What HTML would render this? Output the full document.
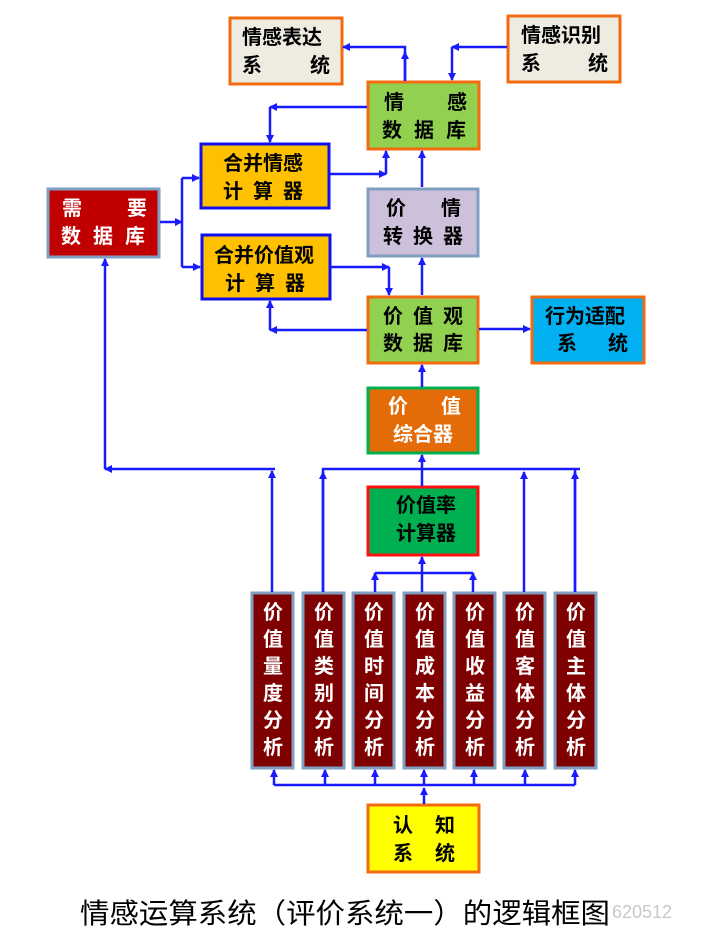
<!DOCTYPE html>
<html><head><meta charset="utf-8"><style>
html,body{margin:0;padding:0;background:#fff;width:705px;height:940px;overflow:hidden}
svg{display:block}
text{font-family:"Liberation Sans","Noto Sans CJK SC",sans-serif;font-size:20px;font-weight:bold}
</style></head><body>
<svg width="705" height="940" viewBox="0 0 705 940" xmlns="http://www.w3.org/2000/svg">
<defs>
<marker id="a" markerWidth="8" markerHeight="8" refX="7" refY="4" orient="auto" markerUnits="userSpaceOnUse">
<path d="M0,0 L8,4 L0,8 Z" fill="#1a1aff"/></marker>
</defs>
<rect x="230" y="18" width="112" height="66" fill="#eeece1" stroke="#f26b10" stroke-width="3"/>
<rect x="508" y="16" width="112" height="66" fill="#eeece1" stroke="#f26b10" stroke-width="3"/>
<rect x="368" y="82" width="111" height="67" fill="#92d050" stroke="#f26b10" stroke-width="3"/>
<rect x="201" y="144" width="128" height="64" fill="#ffc000" stroke="#1010ee" stroke-width="3"/>
<rect x="48" y="189" width="111" height="68" fill="#c00000" stroke="#7f9fc0" stroke-width="3"/>
<rect x="368" y="189" width="110" height="67" fill="#ccc0da" stroke="#7f9fc0" stroke-width="3"/>
<rect x="202" y="235" width="128" height="64" fill="#ffc000" stroke="#1010ee" stroke-width="3"/>
<rect x="368" y="297" width="110" height="66" fill="#92d050" stroke="#f26b10" stroke-width="3"/>
<rect x="532" y="297" width="112" height="66" fill="#00b0f0" stroke="#f26b10" stroke-width="3"/>
<rect x="368" y="388" width="110" height="65" fill="#e36c09" stroke="#00b050" stroke-width="3"/>
<rect x="368" y="487" width="110" height="68" fill="#00b050" stroke="#ff1010" stroke-width="3"/>
<rect x="368" y="805" width="111" height="67" fill="#ffff00" stroke="#f26b10" stroke-width="3"/>
<g fill="#7f0000" stroke="#7f9fc0" stroke-width="3">
<rect x="252" y="593" width="41" height="175"/><rect x="303" y="593" width="41" height="175"/>
<rect x="353" y="593" width="41" height="175"/><rect x="404" y="593" width="41" height="175"/>
<rect x="454" y="593" width="41" height="175"/><rect x="504" y="593" width="41" height="175"/>
<rect x="555" y="593" width="41" height="175"/>
</g>
<g stroke="#1a1aff" stroke-width="2.5" fill="none">
<path d="M405,81 V47 H343" marker-end="url(#a)"/>
<path d="M405,80 V52" marker-end="url(#a)"/>
<path d="M507,47 H452" marker-end="url(#a)"/>
<path d="M452,47 V80" marker-end="url(#a)"/>
<path d="M367,107 H270" marker-end="url(#a)"/>
<path d="M270,107 V142" marker-end="url(#a)"/>
<path d="M330,174 H386" marker-end="url(#a)"/>
<path d="M386,174 V151" marker-end="url(#a)"/>
<path d="M422,187 V151" marker-end="url(#a)"/>
<path d="M160,222 H182" marker-end="url(#a)"/>
<path d="M182,178 V267"/>
<path d="M182,178 H199" marker-end="url(#a)"/>
<path d="M182,267 H200" marker-end="url(#a)"/>
<path d="M331,267 H389" marker-end="url(#a)"/>
<path d="M389,267 V295" marker-end="url(#a)"/>
<path d="M422,295 V258" marker-end="url(#a)"/>
<path d="M367,330 H270" marker-end="url(#a)"/>
<path d="M270,330 V301" marker-end="url(#a)"/>
<path d="M479,329 H530" marker-end="url(#a)"/>
<path d="M422,387 V365" marker-end="url(#a)"/>
<path d="M275,469 H105" marker-end="url(#a)"/>
<path d="M105,469 V259" marker-end="url(#a)"/>
<path d="M272,592 V471" marker-end="url(#a)"/>
<path d="M323,592 V469 H580"/>
<path d="M323,592 V472" marker-end="url(#a)"/>
<path d="M422,486 V455" marker-end="url(#a)"/>
<path d="M524,592 V472" marker-end="url(#a)"/>
<path d="M575,592 V469"/>
<path d="M575,592 V472" marker-end="url(#a)"/>
<path d="M375,573 H473"/>
<path d="M375,592 V573" marker-end="url(#a)"/>
<path d="M473,592 V573" marker-end="url(#a)"/>
<path d="M422,592 V557" marker-end="url(#a)"/>
<path d="M274,785 H575"/>
<path d="M274,785 V770" marker-end="url(#a)"/>
<path d="M325,785 V770" marker-end="url(#a)"/>
<path d="M375,785 V770" marker-end="url(#a)"/>
<path d="M424,785 V770" marker-end="url(#a)"/>
<path d="M474,785 V770" marker-end="url(#a)"/>
<path d="M525,785 V770" marker-end="url(#a)"/>
<path d="M575,785 V770" marker-end="url(#a)"/>
<path d="M424,804 V788" marker-end="url(#a)"/>
</g>
<g fill="#000">
<text x="242" y="44">情感表达</text><text x="242" y="72">系</text><text x="310" y="72">统</text>
<text x="521" y="42">情感识别</text><text x="521" y="70">系</text><text x="588" y="70">统</text>
<text x="384" y="109">情</text><text x="447" y="109">感</text>
<text x="382" y="137" letter-spacing="12">数据库</text>
<text x="223" y="170">合并情感</text><text x="223" y="198" letter-spacing="10">计算器</text>
<text x="386" y="215">价</text><text x="441" y="215">情</text>
<text x="383" y="243" letter-spacing="10">转换器</text>
<text x="214" y="262">合并价值观</text><text x="225" y="290" letter-spacing="10">计算器</text>
<text x="383" y="323" letter-spacing="10">价值观</text><text x="383" y="350" letter-spacing="10">数据库</text>
<text x="545" y="323" font-size="19">行为适配</text><text x="557" y="350" font-size="19">系</text><text x="608" y="350" font-size="19">统</text>
<text x="396" y="512">价值率</text><text x="396" y="540">计算器</text>
<text x="393" y="832">认</text><text x="435" y="832">知</text>
<text x="393" y="860">系</text><text x="435" y="860">统</text>
</g>
<g fill="#fff">
<text x="62" y="215">需</text><text x="127" y="215">要</text>
<text x="61" y="243" letter-spacing="12">数据库</text>
<text x="388" y="413">价</text><text x="441" y="413">值</text>
<text x="393" y="441">综合器</text>
</g>
<g fill="#fff" text-anchor="middle">
<text x="273" y="619">价</text><text x="273" y="646">值</text><text x="273" y="673">量</text><text x="273" y="700">度</text><text x="273" y="727">分</text><text x="273" y="754">析</text>
<text x="324" y="619">价</text><text x="324" y="646">值</text><text x="324" y="673">类</text><text x="324" y="700">别</text><text x="324" y="727">分</text><text x="324" y="754">析</text>
<text x="374" y="619">价</text><text x="374" y="646">值</text><text x="374" y="673">时</text><text x="374" y="700">间</text><text x="374" y="727">分</text><text x="374" y="754">析</text>
<text x="425" y="619">价</text><text x="425" y="646">值</text><text x="425" y="673">成</text><text x="425" y="700">本</text><text x="425" y="727">分</text><text x="425" y="754">析</text>
<text x="475" y="619">价</text><text x="475" y="646">值</text><text x="475" y="673">收</text><text x="475" y="700">益</text><text x="475" y="727">分</text><text x="475" y="754">析</text>
<text x="525" y="619">价</text><text x="525" y="646">值</text><text x="525" y="673">客</text><text x="525" y="700">体</text><text x="525" y="727">分</text><text x="525" y="754">析</text>
<text x="576" y="619">价</text><text x="576" y="646">值</text><text x="576" y="673">主</text><text x="576" y="700">体</text><text x="576" y="727">分</text><text x="576" y="754">析</text>
</g>
<text x="80" y="923" style="font-size:28px;font-weight:normal" textLength="530" lengthAdjust="spacingAndGlyphs" fill="#000">情感运算系统（评价系统一）的逻辑框图</text>
<text x="612" y="918" style="font-size:18px;font-weight:normal" fill="#c8c8c8">620512</text>
</svg>
</body></html>
